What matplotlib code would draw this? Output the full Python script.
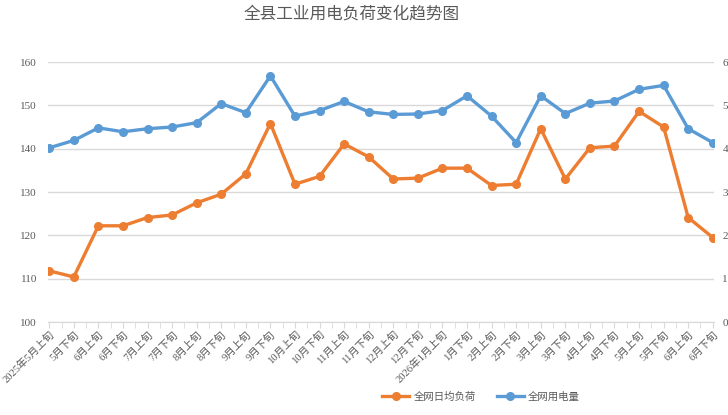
import matplotlib
matplotlib.use("Agg")
import matplotlib.pyplot as plt

# categories (ten-day periods)
periods = ['2025年5月上旬', '5月下旬', '6月上旬', '6月下旬', '7月上旬', '7月下旬',
           '8月上旬', '8月下旬', '9月上旬', '9月下旬', '10月上旬', '10月下旬',
           '11月上旬', '11月下旬', '12月上旬', '12月下旬', '2026年1月上旬', '1月下旬',
           '2月上旬', '2月下旬', '3月上旬', '3月下旬', '4月上旬', '4月下旬',
           '5月上旬', '5月下旬', '6月上旬', '6月下旬']

# 全网日均负荷 (left axis)
load = [111.8, 110.4, 122.2, 122.2, 124.1, 124.7, 127.5, 129.5, 134.2, 145.8,
        131.8, 133.6, 141.1, 138.1, 133.0, 133.2, 135.5, 135.5, 131.5, 131.8,
        144.6, 133.0, 140.2, 140.6, 148.6, 145.0, 124.1, 119.5]

# 全网用电量 (right axis)
energy = [4.02, 4.19, 4.48, 4.39, 4.46, 4.50, 4.60, 5.04, 4.83, 5.68,
          4.75, 4.88, 5.09, 4.85, 4.79, 4.80, 4.88, 5.22, 4.75, 4.14,
          5.22, 4.81, 5.05, 5.10, 5.37, 5.46, 4.46, 4.14]

left_ticks = [100, 110, 120, 130, 140, 150, 160]
right_ticks = [0, 1, 2, 3, 4, 5, 6]

orange = '#ED7D31'
blue = '#5B9BD5'
grey_txt = '#595959'
grid_c = '#D9D9D9'

plt.rcParams['font.family'] = ['Liberation Serif', 'Noto Sans CJK SC']

fig = plt.figure(figsize=(7.28, 4.15), dpi=100)
ax1 = fig.add_axes([48/728, 1-322/415, (714-48)/728, (322-62)/415])
ax2 = ax1.twinx()

x = list(range(len(periods)))
ax1.plot(x, load, color=orange, lw=2.4, marker='o', ms=5.5, zorder=3,
         label='全网日均负荷')
ax2.plot(x, energy, color=blue, lw=2.4, marker='o', ms=5.5, zorder=3,
         label='全网用电量')

ax1.set_ylim(100, 160)
ax1.set_yticks(left_ticks)
ax2.set_ylim(0, 6)
ax2.set_yticks(right_ticks)
ax2.set_yticklabels([str(v) for v in right_ticks])
ax1.set_xlim(-0.05, len(periods) - 0.95)

ax1.grid(axis='y', color=grid_c, lw=1)
ax1.set_axisbelow(True)

for a in (ax1, ax2):
    for s in a.spines.values():
        s.set_visible(False)
ax1.spines['bottom'].set_visible(True)
ax1.spines['bottom'].set_color(grid_c)

ax1.set_xticks(x)
ax1.set_xticklabels(periods, rotation=45, ha='right', rotation_mode='anchor',
                    fontsize=7.6, color=grey_txt)
ax1.set_xticks([i + 0.5 for i in x[:-1]], minor=True)
ax1.tick_params(axis='x', which='both', length=4, color=grid_c, pad=1)
ax1.tick_params(axis='y', length=0, labelsize=8, labelcolor=grey_txt, pad=8)
ax2.tick_params(axis='y', length=0, labelsize=8, labelcolor=grey_txt, pad=6)

fig.text(352/728, 1-14/415, '全县工业用电负荷变化趋势图', ha='center', va='center',
         fontsize=12, color=grey_txt, family=['Noto Sans CJK SC'])

h1, l1 = ax1.get_legend_handles_labels()
h2, l2 = ax2.get_legend_handles_labels()
fig.legend(h1 + h2, l1 + l2, loc='center', bbox_to_anchor=(481/728, 1-397/415),
           ncol=2, frameon=False, labelcolor=grey_txt,
           handlelength=2.6, columnspacing=2.0, handletextpad=0.4,
           prop={'family': ['Noto Sans CJK SC'], 'size': 7.5})

fig.savefig('out.png', dpi=100)
